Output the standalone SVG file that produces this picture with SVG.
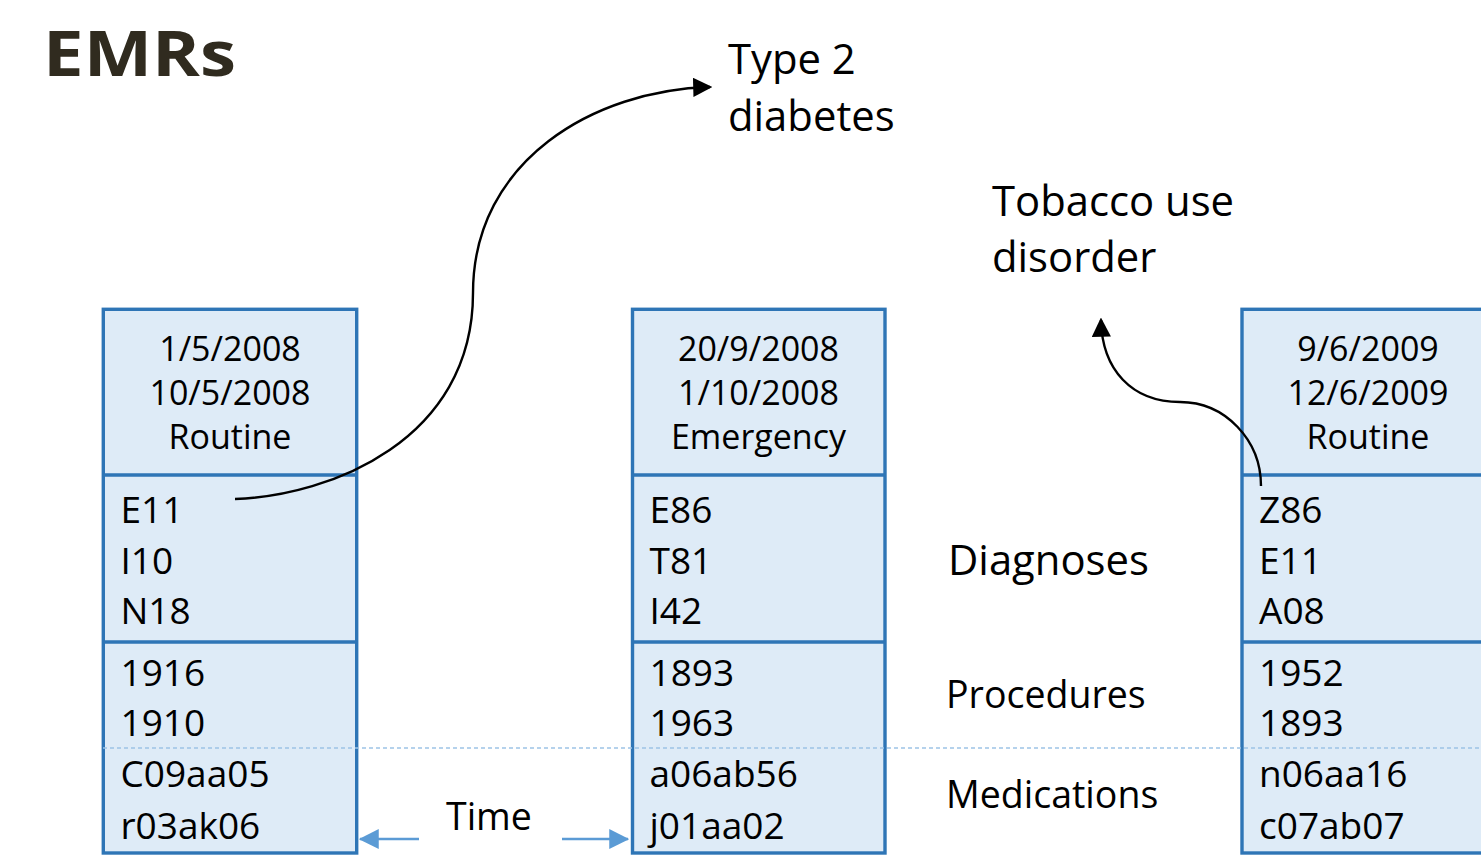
<svg xmlns="http://www.w3.org/2000/svg" width="1481" height="859" viewBox="0 0 1481 859">
  <defs>
    <style>
      .box { fill: #DEEBF7; stroke: #2E75B6; stroke-width: 3.4; }
      .div { stroke: #2E75B6; stroke-width: 3.4; }
      .hdr { font-family: "Open Sans", "Liberation Sans", sans-serif; font-size: 34px; fill: #000; text-anchor: middle; }
      .code { font-family: "Open Sans", "Liberation Sans", sans-serif; font-size: 37px; fill: #000; }
      .lbl { font-family: "Open Sans", "Liberation Sans", sans-serif; font-size: 41.8px; fill: #000; }
      .lbl2 { font-family: "Open Sans", "Liberation Sans", sans-serif; font-size: 37.5px; fill: #000; }
      .title { font-family: "Open Sans", "Liberation Sans", sans-serif; font-size: 62px; font-weight: bold; fill: #302B1F; }
      .curve { fill: none; stroke: #000; stroke-width: 2.4; }
      .time { fill: none; stroke: #5B9BD5; stroke-width: 2.5; }
    </style>
    <marker id="ahBlack" markerWidth="8" markerHeight="8" refX="7" refY="4" orient="auto" markerUnits="strokeWidth">
      <path d="M0,0 L8,4 L0,8 Z" fill="#000"/>
    </marker>
    <marker id="ahBlue" markerWidth="8" markerHeight="8" refX="7.5" refY="4" orient="auto" markerUnits="strokeWidth">
      <path d="M0,0 L8,4 L0,8 Z" fill="#5B9BD5"/>
    </marker>
  </defs>

  <g id="title">
    <text class="title" x="43" y="76" textLength="193" lengthAdjust="spacingAndGlyphs">EMRs</text>
  </g>

  <g id="visit1">
    <rect class="box" x="103.3" y="309.3" width="253.4" height="543.7"/>
    <line class="div" x1="103.3" y1="475" x2="356.7" y2="475"/>
    <line class="div" x1="103.3" y1="642" x2="356.7" y2="642"/>
    <text class="hdr" x="230" y="361">1/5/2008</text>
    <text class="hdr" x="230" y="405">10/5/2008</text>
    <text class="hdr" x="230" y="449">Routine</text>
    <text class="code" x="120.5" y="523">E11</text>
    <text class="code" x="120.5" y="574">I10</text>
    <text class="code" x="120.5" y="624">N18</text>
    <text class="code" x="120.5" y="686">1916</text>
    <text class="code" x="120.5" y="736">1910</text>
    <text class="code" x="120.5" y="787">C09aa05</text>
    <text class="code" x="120.5" y="839">r03ak06</text>
  </g>

  <g id="visit2">
    <rect class="box" x="632.5" y="309.3" width="252.5" height="543.7"/>
    <line class="div" x1="632.5" y1="475" x2="885" y2="475"/>
    <line class="div" x1="632.5" y1="642" x2="885" y2="642"/>
    <text class="hdr" x="758.5" y="361">20/9/2008</text>
    <text class="hdr" x="758.5" y="405">1/10/2008</text>
    <text class="hdr" x="758.5" y="449">Emergency</text>
    <text class="code" x="649.5" y="523">E86</text>
    <text class="code" x="649.5" y="574">T81</text>
    <text class="code" x="649.5" y="624">I42</text>
    <text class="code" x="649.5" y="686">1893</text>
    <text class="code" x="649.5" y="736">1963</text>
    <text class="code" x="649.5" y="787">a06ab56</text>
    <text class="code" x="649.5" y="839">j01aa02</text>
  </g>

  <g id="visit3">
    <rect class="box" x="1242" y="309.3" width="260" height="543.7"/>
    <line class="div" x1="1242" y1="475" x2="1481" y2="475"/>
    <line class="div" x1="1242" y1="642" x2="1481" y2="642"/>
    <text class="hdr" x="1368" y="361">9/6/2009</text>
    <text class="hdr" x="1368" y="405">12/6/2009</text>
    <text class="hdr" x="1368" y="449">Routine</text>
    <text class="code" x="1259" y="523">Z86</text>
    <text class="code" x="1259" y="574">E11</text>
    <text class="code" x="1259" y="624">A08</text>
    <text class="code" x="1259" y="686">1952</text>
    <text class="code" x="1259" y="736">1893</text>
    <text class="code" x="1259" y="787">n06aa16</text>
    <text class="code" x="1259" y="839">c07ab07</text>
  </g>

  <g id="separator">
    <line x1="103" y1="748" x2="1481" y2="748" stroke="#9DC3E6" stroke-width="1.5" stroke-dasharray="4,3"/>
  </g>

  <g id="label-type2">
    <text class="lbl" x="728" y="74">Type 2</text>
    <text class="lbl" x="728" y="131">diabetes</text>
  </g>
  <g id="label-tobacco">
    <text class="lbl" x="992" y="216">Tobacco use</text>
    <text class="lbl" x="992" y="272">disorder</text>
  </g>
  <g id="label-diagnoses">
    <text class="lbl" x="948" y="575">Diagnoses</text>
  </g>
  <g id="label-procedures">
    <text class="lbl2" x="946" y="708">Procedures</text>
  </g>
  <g id="label-medications">
    <text class="lbl2" x="946" y="808">Medications</text>
  </g>
  <g id="label-time">
    <text class="lbl2" x="446" y="830">Time</text>
  </g>

  <g id="connectors">
    <path class="curve" d="M235,499 C330,496 473,440 473,293 C473,160 595,90 710,87" marker-end="url(#ahBlack)"/>
    <path class="curve" d="M1261,486 C1261,440 1225,402 1180,402 C1132,402 1102,370 1101,320" marker-end="url(#ahBlack)"/>
    <path class="time" d="M419,839 L360,839" marker-end="url(#ahBlue)"/>
    <path class="time" d="M562,839 L628,839" marker-end="url(#ahBlue)"/>
  </g>
</svg>
